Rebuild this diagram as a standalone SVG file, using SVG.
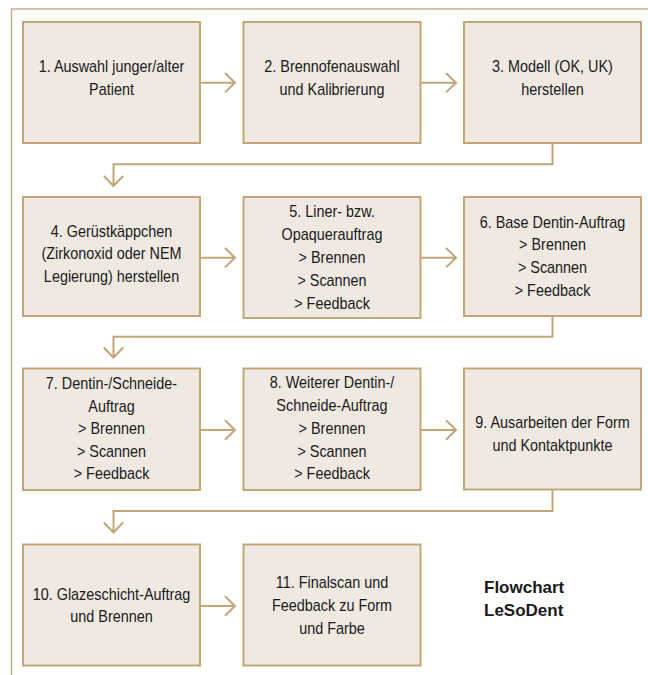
<svg xmlns="http://www.w3.org/2000/svg" width="648" height="675" viewBox="0 0 648 675">
<defs>
<style>
.frame{fill:none;stroke:#C8AF8A;stroke-width:1.5}
.box{fill:#EFE9E2;stroke:#C3A677;stroke-width:2}
.con{fill:none;stroke:#C3A677;stroke-width:2}
.t{font-family:"Liberation Sans",Arial,sans-serif;font-size:16px;fill:#1a1a1a;text-anchor:middle}
.title{font-family:"Liberation Sans",Arial,sans-serif;font-size:17px;font-weight:bold;fill:#1a1a1a}
</style>
</defs>
<rect width="648" height="675" fill="#ffffff"/>
<g id="frame">
<path class="frame" d="M11.5,675 V9 H648"/>
</g>
<g id="connectors">
<path class="con" d="M200,82.7 H235 M225,73 L235,82.7 L225,92.4"/>
<path class="con" d="M421,82.7 H456 M446,73 L456,82.7 L446,92.4"/>
<path class="con" d="M552.5,143 V164.3 H113.5 V186 M103.8,176 L113.5,186 L123.2,176"/>
<path class="con" d="M200,257.7 H235 M225,248 L235,257.7 L225,267.4"/>
<path class="con" d="M421,257.7 H456 M446,248 L456,257.7 L446,267.4"/>
<path class="con" d="M552.5,316 V336.7 H113.5 V357.5 M103.8,347.5 L113.5,357.5 L123.2,347.5"/>
<path class="con" d="M200,430 H235 M225,420.3 L235,430 L225,439.7"/>
<path class="con" d="M421,430 H456 M446,420.3 L456,430 L446,439.7"/>
<path class="con" d="M552.5,490 V511 H113.5 V532.5 M103.8,522.5 L113.5,532.5 L123.2,522.5"/>
<path class="con" d="M200,606 H235 M225,596.3 L235,606 L225,615.7"/>
</g>
<g id="n1">
<rect class="box" x="23" y="22" width="177" height="121"/>
<text class="t" transform="matrix(0.9 0 0 1 111.5 0)"><tspan x="0" y="72">1. Auswahl junger/alter</tspan><tspan x="0" y="94.6">Patient</tspan></text>
</g>
<g id="n2">
<rect class="box" x="243.5" y="22" width="177" height="121"/>
<text class="t" transform="matrix(0.9 0 0 1 332 0)"><tspan x="0" y="72">2. Brennofenauswahl</tspan><tspan x="0" y="94.6">und Kalibrierung</tspan></text>
</g>
<g id="n3">
<rect class="box" x="464" y="22" width="177" height="121"/>
<text class="t" transform="matrix(0.9 0 0 1 552.5 0)"><tspan x="0" y="72">3. Modell (OK, UK)</tspan><tspan x="0" y="94.6">herstellen</tspan></text>
</g>
<g id="n4">
<rect class="box" x="23" y="197" width="177" height="119"/>
<text class="t" transform="matrix(0.9 0 0 1 111.5 0)"><tspan x="0" y="236.7">4. Gerüstkäppchen</tspan><tspan x="0" y="259.2">(Zirkonoxid oder NEM</tspan><tspan x="0" y="281.7">Legierung) herstellen</tspan></text>
</g>
<g id="n5">
<rect class="box" x="243.5" y="197" width="177" height="121"/>
<text class="t" transform="matrix(0.9 0 0 1 332 0)"><tspan x="0" y="217">5. Liner- bzw.</tspan><tspan x="0" y="240">Opaquerauftrag</tspan><tspan x="0" y="263">&gt; Brennen</tspan><tspan x="0" y="286">&gt; Scannen</tspan><tspan x="0" y="309">&gt; Feedback</tspan></text>
</g>
<g id="n6">
<rect class="box" x="464" y="197" width="177" height="119"/>
<text class="t" transform="matrix(0.9 0 0 1 552.5 0)"><tspan x="0" y="227.7">6. Base Dentin-Auftrag</tspan><tspan x="0" y="250.5">&gt; Brennen</tspan><tspan x="0" y="273.3">&gt; Scannen</tspan><tspan x="0" y="296">&gt; Feedback</tspan></text>
</g>
<g id="n7">
<rect class="box" x="23" y="368.5" width="177" height="121.5"/>
<text class="t" transform="matrix(0.9 0 0 1 111.5 0)"><tspan x="0" y="389">7. Dentin-/Schneide-</tspan><tspan x="0" y="411.8">Auftrag</tspan><tspan x="0" y="434.4">&gt; Brennen</tspan><tspan x="0" y="457">&gt; Scannen</tspan><tspan x="0" y="479.5">&gt; Feedback</tspan></text>
</g>
<g id="n8">
<rect class="box" x="243.5" y="368.5" width="177" height="121.5"/>
<text class="t" transform="matrix(0.9 0 0 1 332 0)"><tspan x="0" y="388.5">8. Weiterer Dentin-/</tspan><tspan x="0" y="411.5">Schneide-Auftrag</tspan><tspan x="0" y="434.3">&gt; Brennen</tspan><tspan x="0" y="457">&gt; Scannen</tspan><tspan x="0" y="479.5">&gt; Feedback</tspan></text>
</g>
<g id="n9">
<rect class="box" x="464" y="368.5" width="177" height="121"/>
<text class="t" transform="matrix(0.9 0 0 1 552.5 0)"><tspan x="0" y="428.3">9. Ausarbeiten der Form</tspan><tspan x="0" y="450.8">und Kontaktpunkte</tspan></text>
</g>
<g id="n10">
<rect class="box" x="23" y="544.5" width="177" height="121"/>
<text class="t" transform="matrix(0.9 0 0 1 111.5 0)"><tspan x="0" y="600">10. Glazeschicht-Auftrag</tspan><tspan x="0" y="622">und Brennen</tspan></text>
</g>
<g id="n11">
<rect class="box" x="243.5" y="544.5" width="177" height="121"/>
<text class="t" transform="matrix(0.9 0 0 1 332 0)"><tspan x="0" y="588.5">11. Finalscan und</tspan><tspan x="0" y="611.5">Feedback zu Form</tspan><tspan x="0" y="634.3">und Farbe</tspan></text>
</g>
<g id="title">
<text class="title"><tspan x="484" y="593">Flowchart</tspan><tspan x="484" y="616">LeSoDent</tspan></text>
</g>
</svg>
